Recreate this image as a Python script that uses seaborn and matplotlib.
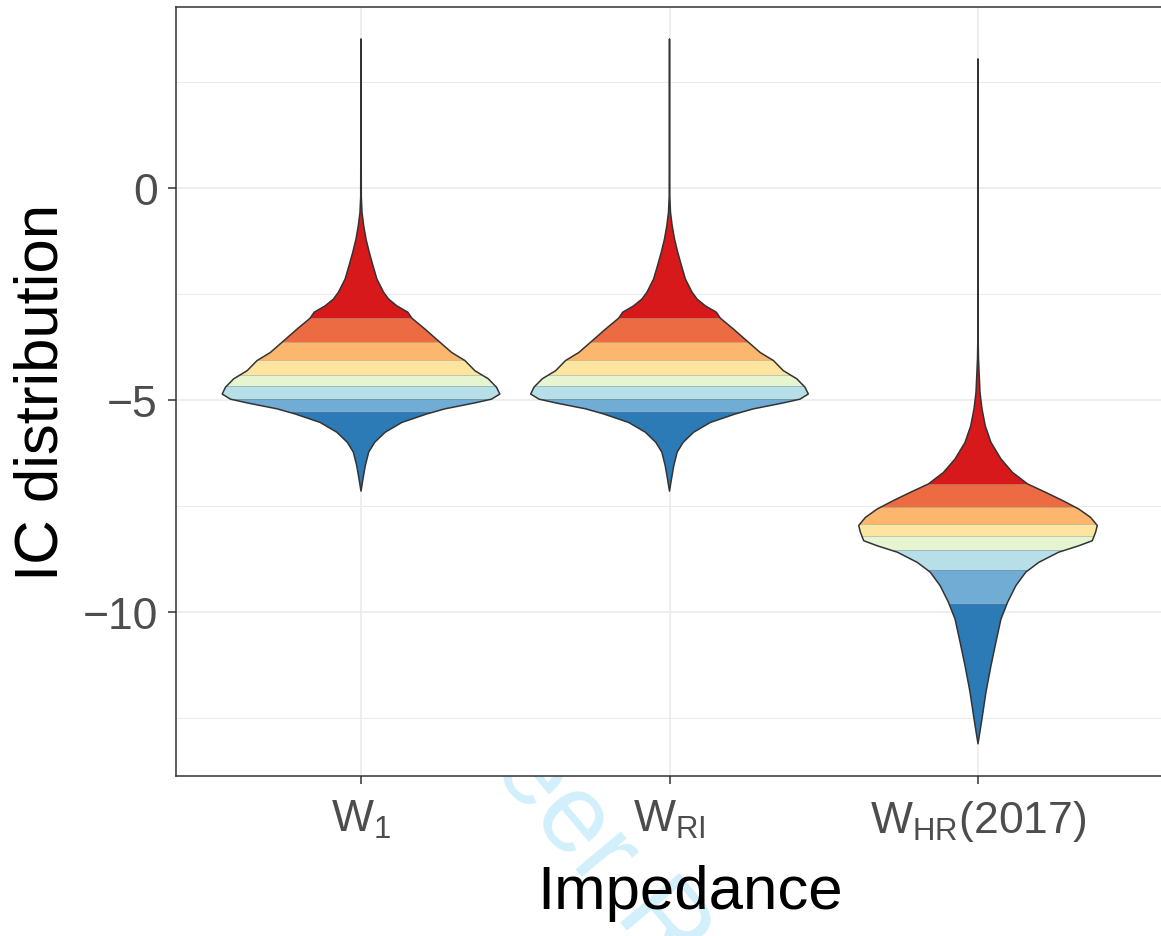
import numpy as np
import matplotlib
matplotlib.use("Agg")
import matplotlib.pyplot as plt
from matplotlib.patches import Polygon
import seaborn as sns

# ==========================================
# 1. DATA
# ==========================================
impedance_labels = [r"$\mathregular{W_{1}}$",
                    r"$\mathregular{W_{RI}}$",
                    r"$\mathregular{W_{HR}(2017)}$"]

# violin outline of each group: IC value -> relative density
w1_ic = [3.51, -0.2, -0.57, -0.89, -1.20, -1.52, -1.83, -2.15, -2.46, -2.62,
         -2.78, -2.93, -3.07, -3.33, -3.64, -3.88, -4.07, -4.31, -4.50, -4.70,
         -4.86, -4.98, -5.07, -5.21, -5.33, -5.53, -5.76, -6.0, -6.23, -6.55,
         -6.86, -7.15]
w1_density = [0.0, 0.3, 1.0, 2.7, 5.0, 8.3, 12, 16, 22.7, 27.7,
              36, 47, 51, 64.3, 79.3, 91, 104.3, 114.3, 127.7, 136,
              139.3, 131, 114, 84, 66, 41, 24.3, 13.7, 7.7, 4.3,
              2.0, 0.0]

wri_ic = [3.51, -0.2, -0.57, -0.89, -1.20, -1.52, -1.83, -2.15, -2.46, -2.62,
          -2.78, -2.93, -3.07, -3.33, -3.64, -3.88, -4.07, -4.31, -4.50, -4.70,
          -4.86, -4.98, -5.07, -5.21, -5.33, -5.53, -5.76, -6.0, -6.23, -6.55,
          -6.86, -7.15]
wri_density = [0.0, 0.3, 1.0, 2.7, 5.0, 8.3, 12, 16, 22.7, 27.7,
               36, 47, 51, 64.3, 79.3, 91, 104.3, 114.3, 127.7, 136,
               139.3, 131, 114, 84, 66, 41, 24.3, 13.7, 7.7, 4.3,
               2.0, 0.0]

whr_ic = [3.04, -3.6, -4.03, -4.82, -5.21, -5.61, -6.0, -6.39, -6.71, -6.98,
          -7.18, -7.37, -7.57, -7.77, -7.96, -8.12, -8.32, -8.44, -8.59, -8.83,
          -9.06, -9.38, -9.77, -10.17, -10.71, -11.27, -11.89, -12.52, -13.11]
whr_density = [0.0, 0.2, 0.5, 2.0, 4.0, 7.3, 13, 23, 34.7, 49.7,
               68, 84.7, 101, 113, 119.7, 118, 114.7, 101, 81, 61,
               48, 38, 29.7, 23, 18, 13, 8, 4, 0.0]

# quantile band limits (top to bottom)
w1_breaks = [-3.07, -3.64, -4.06, -4.40, -4.68, -4.98, -5.29]
wri_breaks = [-3.07, -3.64, -4.06, -4.40, -4.68, -4.98, -5.29]
whr_breaks = [-6.98, -7.53, -7.92, -8.21, -8.53, -9.0, -9.81]

band_colors = ["#d7191c", "#ec6b43", "#fdb66d", "#fee59f",
               "#e6f4cf", "#b6dfe7", "#70acd3", "#2c7bb6"]

y_ticks = [-10, -5, 0]
y_tick_labels = ["\u221210", "\u22125", "0"]
y_minor = [-12.5, -7.5, -2.5, 2.5]

# ==========================================
# 2. SETUP THE FIGURE
# ==========================================
sns.set_theme(style="whitegrid")
plt.rcParams['font.family'] = ['Liberation Sans', 'DejaVu Sans']
plt.rcParams['mathtext.fontset'] = 'custom'
plt.rcParams['mathtext.rm'] = 'Liberation Sans'

fig = plt.figure(figsize=(11.61, 9.37), dpi=100)
ax = fig.add_axes([175.9 / 1161, 1 - 777 / 937, 987.2 / 1161, 769 / 937])
ax.set_facecolor("white")

# faint journal watermark, sits behind the panel
fig.text(0.520, 0.083, "For Peer Review", rotation=-50, color="#d2effc",
         fontsize=80, ha="center", va="center", zorder=-1)

# ==========================================
# 3. DRAW THE VIOLINS
# ==========================================
positions = [1, 2, 3]
groups = [(w1_ic, w1_density, w1_breaks),
          (wri_ic, wri_density, wri_breaks),
          (whr_ic, whr_density, whr_breaks)]

max_dens = max(max(g[1]) for g in groups)
scale = 0.45 / max_dens

for pos, (ic, dens, breaks) in zip(positions, groups):
    ic = np.asarray(ic, dtype=float)
    half = np.asarray(dens, dtype=float) * scale
    xs = np.r_[pos + half, (pos - half)[::-1]]
    ys = np.r_[ic, ic[::-1]]
    body = Polygon(np.column_stack([xs, ys]), closed=True, transform=ax.transData)

    edges = [ic.max()] + list(breaks) + [ic.min()]
    for hi, lo, col in zip(edges[:-1], edges[1:], band_colors):
        band = ax.axhspan(lo, hi, facecolor=col, edgecolor="none", zorder=2)
        band.set_clip_path(body)
    for b in breaks:
        ln = ax.axhline(b, color="#777777", lw=0.5, alpha=0.5, zorder=2.5)
        ln.set_clip_path(body)

    sns.lineplot(x=xs, y=ys, sort=False, estimator=None, color="#333333",
                 linewidth=1.1, ax=ax, zorder=3)

# ==========================================
# 4. AXES, GRID AND LABELS
# ==========================================
ax.set_xlim(0.4, 3.6)
ax.set_ylim(-13.87, 4.27)
ax.set_xticks(positions)
ax.set_xticklabels(impedance_labels)
ax.set_yticks(y_ticks)
ax.set_yticklabels(y_tick_labels)
ax.set_yticks(y_minor, minor=True)

ax.set_axisbelow(True)
ax.grid(which="major", color="#ebebeb", linewidth=1.2)
ax.grid(which="minor", axis="y", color="#ebebeb", linewidth=0.7)
ax.grid(which="minor", axis="x", visible=False)

for side in ["left", "right", "top", "bottom"]:
    ax.spines[side].set_visible(True)
    ax.spines[side].set_color("#333333")
    ax.spines[side].set_linewidth(1.1)

ax.tick_params(axis="both", which="major", length=6, width=1.1, color="#333333",
               labelsize=32, labelcolor="#4d4d4d", direction="out",
               left=True, bottom=True)
ax.tick_params(axis="y", which="major", pad=7)
ax.tick_params(axis="x", which="major", pad=10)
ax.tick_params(which="minor", length=0)

ax.set_xlabel("Impedance", fontsize=44.5, color="black")
ax.set_ylabel("IC distribution", fontsize=44.5, color="black")
ax.xaxis.set_label_coords(0.521, -0.114)
ax.yaxis.set_label_coords(-0.107, 0.5)

fig.savefig("out.png", dpi=100)
print("Saved out.png")
